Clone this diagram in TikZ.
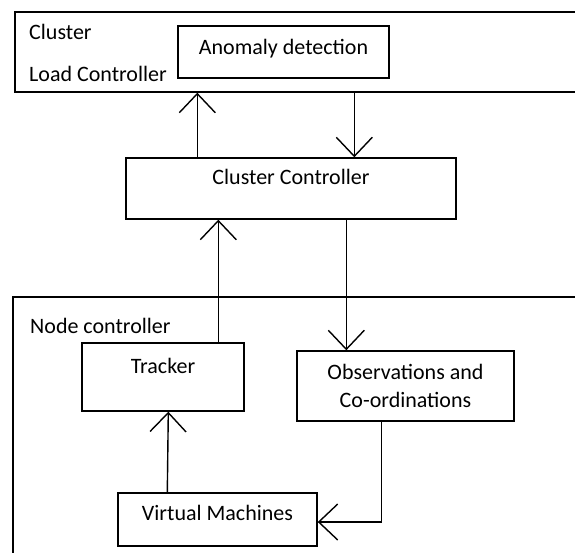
\documentclass[tikz,border=0pt]{standalone}
\usepackage{fontspec}
\setmainfont{Carlito}
\usetikzlibrary{arrows.meta}
\tikzset{
  every node/.style={font=\fontsize{22}{27}\selectfont, inner sep=0pt},
  box/.style={draw=black, line width=1.4pt, rectangle},
  frame/.style={draw=black, line width=1.4pt, rectangle},
  lbl/.style={anchor=base west},
  arr/.style={draw=black, line width=1.4pt, -{Straight Barb[length=19pt,width=36pt,line width=1.4pt]}}
}
\begin{document}
\begin{tikzpicture}[x=1pt,y=-1pt]
\useasboundingbox (0,0) rectangle (575,553);
\clip (0,0) rectangle (575,553);
% outer frames (open to the right / bottom)
\node[frame, minimum width=685pt, minimum height=80pt] (lc) at (357.5,52) {};
\node[frame, minimum width=687pt, minimum height=403pt] (nc) at (356.5,498.5) {};
\node[lbl] (t1) at (29,40) {Cluster};
\node[lbl] (t2) at (29,82) {Load Controller};
\node[lbl] (t3) at (30,333) {Node controller};
% boxes
\node[box, minimum width=211pt, minimum height=52pt, text height=11pt, text depth=5pt] (ad) at (283.5,52) {Anomaly detection};
\node[box, minimum width=330pt, minimum height=61pt, text height=12pt, text depth=19pt] (cc) at (291,188.5) {Cluster Controller};
\node[box, minimum width=162pt, minimum height=68pt, text height=12pt, text depth=20pt] (tr) at (163,377) {Tracker};
\node[box, minimum width=217pt, minimum height=70pt, align=center] (ob) at (405.5,386) {Observations and\\[1pt]Co-ordinations};
\node[box, minimum width=199pt, minimum height=53pt, text height=11pt, text depth=10pt] (vm) at (217.5,519.5) {Virtual Machines};
% connectors
\draw[arr] ([xshift=72pt]cc.north west) -- ([xshift=183pt]lc.south west);
\draw[arr] ([xshift=340pt]lc.south west) -- ([xshift=229pt]cc.north west);
\draw[arr] ([xshift=137pt]tr.north west) -- ([xshift=93pt]cc.south west);
\draw[arr] ([xshift=221pt]cc.south west) -- ([xshift=50pt]ob.north west);
\draw[arr] ([xshift=50pt]vm.north west) -- ([xshift=87pt]tr.south west);
\coordinate (bend) at ([xshift=85pt]ob.south west |- vm.east);
\draw[arr] ([xshift=85pt]ob.south west) -- ([yshift=-2.5pt]bend) -- ([yshift=-2.5pt]vm.east);
\end{tikzpicture}
\end{document}
